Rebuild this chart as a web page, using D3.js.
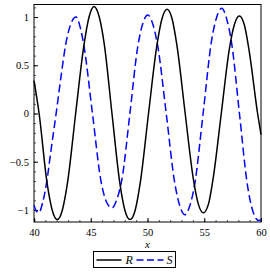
<!DOCTYPE html>
<html>
<head>
<meta charset="utf-8">
<script src="https://cdn.jsdelivr.net/npm/d3@7"></script>
<style>
  body { margin: 0; background: #fff; }
  .axis text { font-family: 'Liberation Serif', 'Times New Roman', serif; font-size: 10.5px; fill: #000; }
  .axis line { stroke: #000; }
  .axis path { display: none; }
  .minor line { stroke: #555; }
  .lbl { font-family: 'Liberation Serif', 'Times New Roman', serif; font-style: italic; font-size: 12px; }
</style>
</head>
<body>
<svg id="chart"></svg>
<script>
// R (solid black)
const rX = [40.0, 40.45, 41.15, 41.6, 42.05, 42.5, 42.95, 43.67, 44.39, 44.85, 45.29, 45.75, 46.19,
  46.87, 47.56, 48.0, 48.46, 48.92, 49.36, 50.09, 50.82, 51.27, 51.72, 52.17, 52.6, 53.32,
  54.04, 54.48, 54.92, 55.37, 55.8, 56.5, 57.2, 57.65, 58.09, 58.53, 58.97, 59.7, 60.0];
const rY = [0.34, 0.0, -0.72, -1.0, -1.10, -1.0, -0.72, 0.0, 0.70, 1.0, 1.11, 1.0, 0.72,
  0.0, -0.72, -1.0, -1.10, -1.0, -0.72, 0.0, 0.70, 0.98, 1.08, 0.98, 0.70, 0.0,
  -0.68, -0.94, -1.03, -0.94, -0.66, 0.0, 0.66, 0.92, 1.01, 0.92, 0.64, 0.0, -0.22];

// S (dashed blue)
const sX = [40.0, 40.2, 40.42, 40.75, 41.12, 41.5, 41.95, 42.4, 42.8, 43.25, 43.7, 44.1, 44.4,
  45.15, 45.9, 46.4, 46.87, 47.3, 47.75, 48.45, 49.15, 49.58, 50.02, 50.46, 50.9, 51.65,
  52.4, 52.85, 53.28, 53.72, 54.15, 54.9, 55.65, 56.1, 56.54, 57.0, 57.4, 58.1, 58.8,
  59.3, 59.8, 60.0];
const sY = [-0.95, -1.01, -1.03, -0.93, -0.71, -0.38, 0.0, 0.4, 0.72, 0.93, 1.0, 0.88, 0.70,
  0.0, -0.7, -0.92, -0.98, -0.89, -0.68, 0.0, 0.7, 0.93, 1.02, 0.93, 0.70, 0.0,
  -0.72, -0.96, -1.05, -0.96, -0.74, 0.0, 0.76, 1.0, 1.09, 0.97, 0.74, 0.0, -0.74,
  -1.02, -1.11, -1.10];

const xTicks = [40, 45, 50, 55, 60];
const yTicks = [-1, -0.5, 0, 0.5, 1];
const seriesNames = ['R', 'S'];

const fullWidth = 270;
const fullHeight = 274;
const margin = { top: 4.5, right: 9, bottom: 52, left: 34 };
const width = fullWidth - margin.left - margin.right;
const height = fullHeight - margin.top - margin.bottom;

const x = d3.scaleLinear()
    .domain([40, 60])
    .range([0, width]);

const y = d3.scaleLinear()
    .domain([-1.125, 1.13])
    .range([height, 0]);

const svg = d3.select('#chart')
    .attr('width', fullWidth)
    .attr('height', fullHeight)
  .append('g')
    .attr('transform', `translate(${margin.left}, ${margin.top})`);

const fmt = d => (d < 0 ? '\u2212' + Math.abs(d) : String(d));

// minor ticks
svg.append('g')
    .attr('class', 'axis minor')
    .attr('transform', `translate(0, ${height})`)
    .call(d3.axisBottom(x).tickValues(d3.range(41, 60, 1)).tickFormat('').tickSizeInner(-2).tickSizeOuter(0));

svg.append('g')
    .attr('class', 'axis minor')
    .call(d3.axisLeft(y).tickValues(d3.range(-11, 12, 1).map(v => v / 10)).tickFormat('').tickSizeInner(-2).tickSizeOuter(0));

// major ticks
svg.append('g')
    .attr('class', 'axis')
    .attr('transform', `translate(0, ${height})`)
    .call(d3.axisBottom(x).tickValues(xTicks).tickFormat(fmt).tickSizeInner(-4).tickSizeOuter(0).tickPadding(7));

svg.append('g')
    .attr('class', 'axis')
    .call(d3.axisLeft(y).tickValues(yTicks).tickFormat(fmt).tickSizeInner(-4).tickSizeOuter(0).tickPadding(5));

// frame
svg.append('rect')
    .attr('width', width)
    .attr('height', height)
    .attr('fill', 'none')
    .attr('stroke', '#000')
    .attr('stroke-width', 1);

svg.append('text')
    .attr('class', 'lbl')
    .attr('x', width / 2)
    .attr('y', height + 25.5)
    .attr('text-anchor', 'middle')
    .style('font-size', '11px')
    .text('x');

const line = d3.line()
    .x(d => x(d[0]))
    .y(d => y(d[1]))
    .curve(d3.curveMonotoneX);

const rData = rX.map((v, i) => [v, rY[i]]);
const sData = sX.map((v, i) => [v, sY[i]]);

svg.append('path')
    .datum(sData)
    .attr('fill', 'none')
    .attr('stroke', '#0000ff')
    .attr('stroke-width', 1.5)
    .attr('stroke-dasharray', '8,4')
    .attr('d', line);

svg.append('path')
    .datum(rData)
    .attr('fill', 'none')
    .attr('stroke', '#000')
    .attr('stroke-width', 1.5)
    .attr('d', line);

// legend
const legend = d3.select('#chart').append('g')
    .attr('transform', 'translate(93.5, 251.5)');

legend.append('rect')
    .attr('width', 82)
    .attr('height', 16)
    .attr('fill', '#fff')
    .attr('stroke', '#000')
    .attr('stroke-width', 1);

const styles = [
  { stroke: '#000', dash: null, x0: 3, x1: 28, tx: 32 },
  { stroke: '#0000ff', dash: '7,3.5', x0: 43, x1: 70, tx: 73 },
];

seriesNames.forEach((name, i) => {
  const s = styles[i];
  legend.append('line')
      .attr('x1', s.x0)
      .attr('x2', s.x1)
      .attr('y1', 8.5)
      .attr('y2', 8.5)
      .attr('stroke', s.stroke)
      .attr('stroke-width', 1.5)
      .attr('stroke-dasharray', s.dash);
  legend.append('text')
      .attr('class', 'lbl')
      .attr('x', s.tx)
      .attr('y', 12.5)
      .text(name);
});
</script>
</body>
</html>
